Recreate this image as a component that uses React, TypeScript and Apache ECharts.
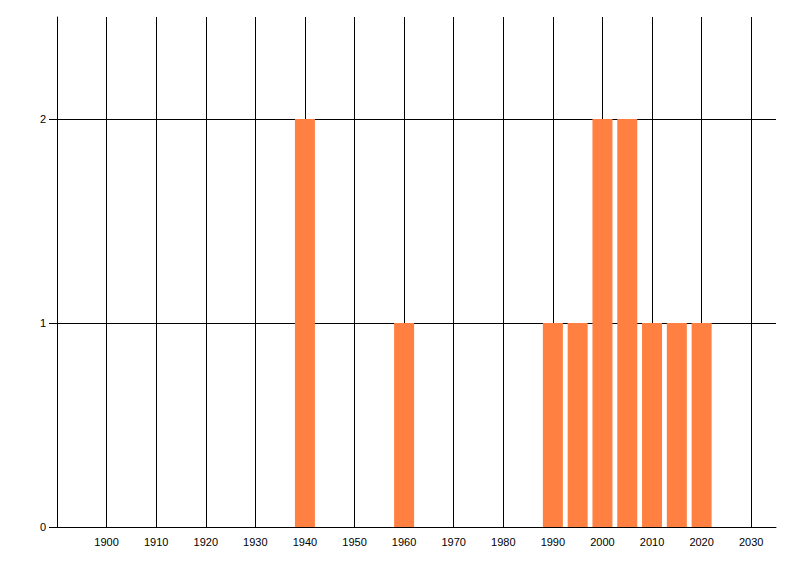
import React, { useEffect, useRef } from "react";
import * as echarts from "echarts";

const years = [1940, 1960, 1990, 1995, 2000, 2005, 2010, 2015, 2020];
const counts = [2, 1, 1, 1, 2, 2, 1, 1, 1];
const xTickLabels = [1900, 1910, 1920, 1930, 1940, 1950, 1960, 1970, 1980, 1990, 2000, 2010, 2020, 2030];
const yTickLabels = [0, 1, 2];

export default function App() {
  const ref = useRef<HTMLDivElement>(null);
  useEffect(() => {
    document.body.style.margin = "0";
    const chart = echarts.init(ref.current!, null, { renderer: "svg" });
    const font = { fontFamily: "Liberation Sans", fontSize: 11, color: "#000" };
    chart.setOption({
      animation: false,
      backgroundColor: "#fff",
      grid: { left: 57, right: 24, top: 17, bottom: 49, containLabel: false },
      xAxis: {
        type: "value",
        min: 1890,
        max: 2035,
        interval: 10,
        axisLine: { show: true, onZero: false, lineStyle: { color: "#000", width: 1 } },
        axisTick: { show: false },
        axisLabel: { ...font, margin: 9, customValues: xTickLabels, formatter: (v: number) => String(v) },
        splitLine: { show: true, showMinLine: false, showMaxLine: false, lineStyle: { color: "#000", width: 1 } },
      },
      yAxis: {
        type: "value",
        min: 0,
        max: 2.5,
        interval: 1,
        axisLine: { show: true, lineStyle: { color: "#000", width: 1 } },
        axisTick: { show: true, length: 8, customValues: yTickLabels, lineStyle: { color: "#000" } },
        axisLabel: { ...font, margin: 11, customValues: yTickLabels, formatter: (v: number) => String(v) },
        splitLine: { show: true, showMinLine: false, showMaxLine: true, lineStyle: { color: "#000", width: 1 } },
      },
      series: [
        {
          type: "bar",
          barWidth: 20,
          itemStyle: { color: "#FF8041" },
          data: years.map((y, i) => [y, counts[i]]),
        },
      ],
    });
    return () => chart.dispose();
  }, []);
  return <div ref={ref} style={{ width: 800, height: 576 }} />;
}
